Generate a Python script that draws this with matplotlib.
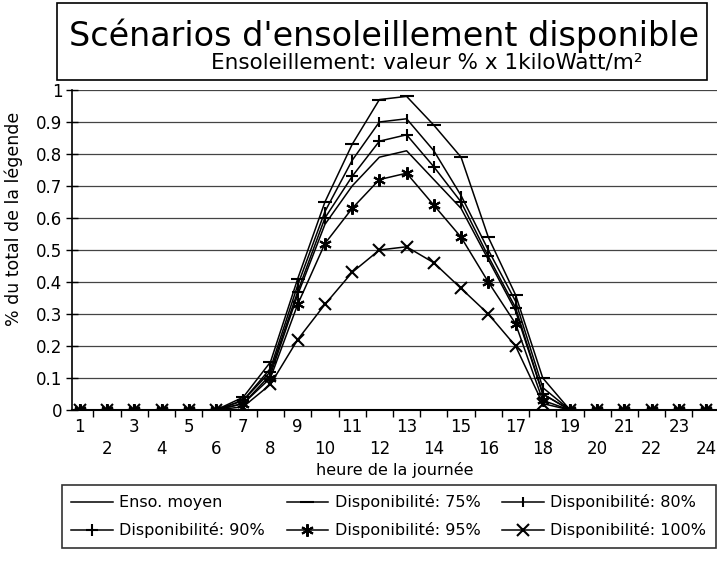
import matplotlib.pyplot as plt
import numpy as np
from matplotlib.patches import Rectangle

# hours of the day (category axis)
hours = list(range(1, 25))

# series
enso_moyen = [0, 0, 0, 0, 0, 0, 0.02, 0.11, 0.36, 0.58, 0.70, 0.79,
              0.81, 0.72, 0.63, 0.47, 0.31, 0.05, 0, 0, 0, 0, 0, 0]
dispo_75 = [0, 0, 0, 0, 0, 0, 0.04, 0.15, 0.41, 0.65, 0.83, 0.97,
            0.98, 0.89, 0.79, 0.54, 0.36, 0.10, 0, 0, 0, 0, 0, 0]
dispo_80 = [0, 0, 0, 0, 0, 0, 0.03, 0.13, 0.39, 0.62, 0.78, 0.90,
            0.91, 0.81, 0.67, 0.50, 0.34, 0.07, 0, 0, 0, 0, 0, 0]
dispo_90 = [0, 0, 0, 0, 0, 0, 0.03, 0.12, 0.37, 0.60, 0.73, 0.84,
            0.86, 0.76, 0.65, 0.48, 0.32, 0.05, 0, 0, 0, 0, 0, 0]
dispo_95 = [0, 0, 0, 0, 0, 0, 0.02, 0.10, 0.33, 0.52, 0.63, 0.72,
            0.74, 0.64, 0.54, 0.40, 0.27, 0.03, 0, 0, 0, 0, 0, 0]
dispo_100 = [0, 0, 0, 0, 0, 0, 0.01, 0.08, 0.22, 0.33, 0.43, 0.50,
             0.51, 0.46, 0.38, 0.30, 0.20, 0.02, 0, 0, 0, 0, 0, 0]

labels = ['Enso. moyen', 'Disponibilité: 75%', 'Disponibilité: 80%',
          'Disponibilité: 90%', 'Disponibilité: 95%', 'Disponibilité: 100%']

title = "Scénarios d'ensoleillement disponible"
subtitle = 'Ensoleillement: valeur % x 1kiloWatt/m²'
xlabel = 'heure de la journée'
ylabel = '% du total de la légende'

plt.rcParams['font.family'] = ['DejaVu Sans']

fig = plt.figure(figsize=(7.17, 5.62), dpi=100)
ax = fig.add_axes([0.1004, 0.2705, 0.8996, 0.5694])

series = [enso_moyen, dispo_75, dispo_80, dispo_90, dispo_95, dispo_100]
markers = [None, '_', '|', '+', (6, 2, 0), 'x']
msizes = [0, 10, 7, 9, 9, 8]
lines = []
for vals, m, ms, lab in zip(series, markers, msizes, labels):
    ln, = ax.plot(hours, vals, color='black', lw=1.1, marker=m, markersize=ms,
                  markeredgewidth=1.5, label=lab)
    lines.append(ln)

ax.set_xlim(0.71, 24.4)
ax.set_ylim(0, 1)

# horizontal grid
ax.set_yticks(np.arange(0, 1.01, 0.1))
ax.set_yticklabels(['0'] + ['%.1f' % v for v in np.arange(0.1, 0.95, 0.1)] + ['1'],
                   fontsize=12)
ax.yaxis.grid(True, color='#444444', lw=0.9)
ax.set_axisbelow(True)
for side in ['top', 'right']:
    ax.spines[side].set_visible(False)
ax.spines['left'].set_linewidth(1.2)
ax.spines['bottom'].set_linewidth(1.5)
ax.tick_params(axis='y', direction='inout', length=8, width=1, pad=3)

# category ticks between hours, labels staggered on two rows
ax.set_xticks([h + 0.5 for h in hours[:-1]])
ax.set_xticklabels([])
ax.tick_params(axis='x', direction='out', length=5, width=1)
for h in hours:
    dy = -0.052 if h % 2 == 1 else -0.122
    ax.text(h, dy, str(h), transform=ax.get_xaxis_transform(),
            ha='center', va='center', fontsize=12)
ax.text(0.5, -0.188, xlabel, transform=ax.transAxes, ha='center', va='center',
        fontsize=11.5)
fig.text(0.019, 0.61, ylabel, rotation=90, ha='center', va='center', fontsize=12.5)

# title box
fig.patches.append(Rectangle((0.0795, 0.858), 0.907, 0.137, transform=fig.transFigure,
                             fill=False, edgecolor='black', lw=1.2))
fig.text(0.535, 0.937, title, ha='center', va='center', fontsize=24)
fig.text(0.595, 0.888, subtitle, ha='center', va='center', fontsize=15.5)

# legend box (row-major order like the reference)
order = [0, 3, 1, 4, 2, 5]
leg = fig.legend(handles=[lines[i] for i in order], labels=[labels[i] for i in order],
                 ncol=3, loc='lower left',
                 bbox_to_anchor=(0.086, 0.025, 0.912, 0.116), mode='expand',
                 borderaxespad=0,
                 frameon=True, fancybox=False, edgecolor='black', fontsize=11.5,
                 handlelength=2.6, handletextpad=0.4, columnspacing=0.6,
                 labelspacing=0.75, borderpad=0.6)
leg.get_frame().set_linewidth(1.2)

fig.savefig('out.png', dpi=100)
